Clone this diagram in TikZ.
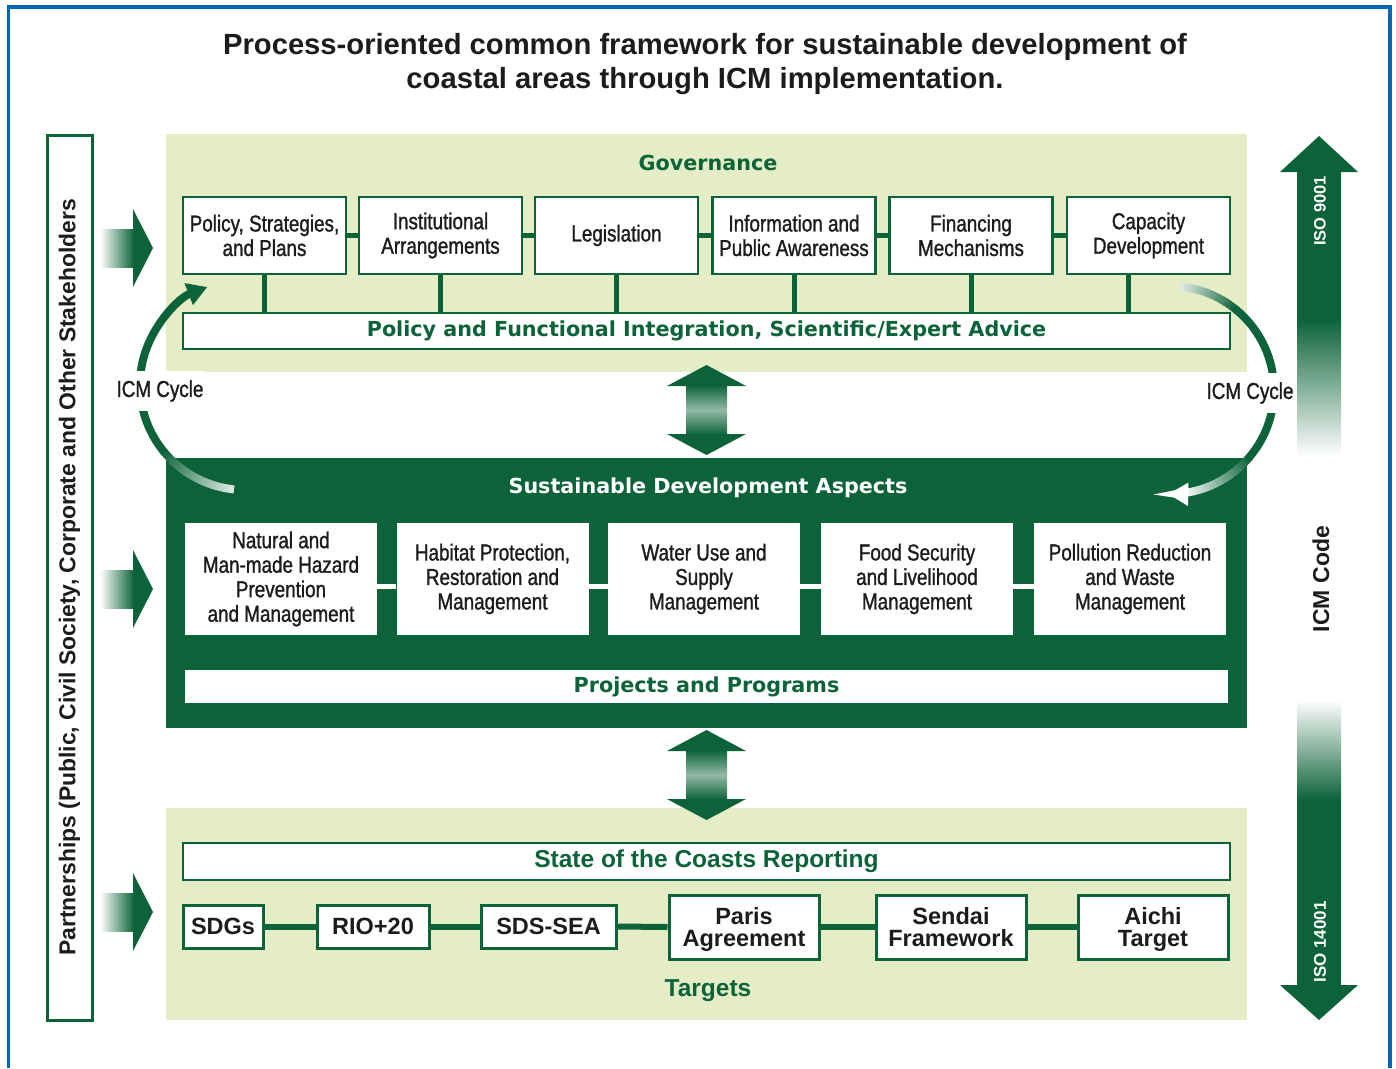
\documentclass[tikz,border=0pt]{standalone}
\usepackage{fontspec}
\setmainfont{Liberation Sans}
\newfontfamily\narrowf[FakeStretch=0.82,FakeBold=1.2]{Liberation Sans}
\newfontfamily\heavyf{DejaVu Sans}
\usetikzlibrary{arrows.meta}
\definecolor{dg}{RGB}{12,99,57}
\definecolor{lg}{RGB}{228,237,197}
\definecolor{fb}{RGB}{0,104,180}
\definecolor{tx}{RGB}{28,28,28}
\begin{document}
\begin{tikzpicture}[x=1pt,y=-1pt,
  nf/.style={font=\narrowf\fontsize{23}{24.5}\selectfont},
  topbox/.style={draw=dg, line width=2.5pt, fill=white, minimum width=163pt, minimum height=77pt, inner sep=0pt, align=center, text=tx, nf},
  midbox/.style={fill=white, minimum width=192pt, minimum height=112pt, inner sep=0pt, align=center, text=tx, nf},
  barbox/.style={draw=dg, line width=2.5pt, fill=white, minimum width=1047pt, minimum height=36pt, inner sep=0pt},
  tgtbox/.style={draw=dg, line width=3pt, fill=white, inner sep=0pt, align=center, text=tx, font=\bfseries\fontsize{23.5}{22}\selectfont},
  heavy/.style={font=\heavyf\bfseries\fontsize{20.7}{24}\selectfont, text=dg, inner sep=0pt},
  boldlbl/.style={font=\bfseries\fontsize{24.5}{26}\selectfont, text=dg, inner sep=0pt},
  cyclbl/.style={nf, text=tx, fill=white, inner xsep=2pt, inner ysep=9pt},
  conn/.style={draw=dg, line width=5pt},
  wconn/.style={draw=white, line width=5pt},
  arcline/.style={line width=8pt}
]
\useasboundingbox (0,0) rectangle (1396,1068);
% frame
\draw[fb, line width=3.5pt] (8.5,1068) -- (8.5,7) -- (1390,7) -- (1390,1068);
% title
\node[font=\bfseries\fontsize{29.2}{34}\selectfont, text=tx, align=center] (title) at (705,64)
  {Process-oriented common framework for sustainable development of\\coastal areas through ICM implementation.};
% backgrounds
\fill[lg] (166,134) rectangle (1247,372);
\fill[dg] (166,458) rectangle (1247,728);
\fill[lg] (166,808) rectangle (1247,1020);
% partnerships
\node[draw=dg, line width=3pt, rotate=90, minimum width=885pt, minimum height=45pt, inner sep=0pt,
  font=\bfseries\fontsize{22.9}{24}\selectfont, text=tx] (pship) at (69.5,577.5)
  {Partnerships (Public, Civil Society, Corporate and Other Stakeholders};
% fat arrows
\foreach \c in {248,589,912} {
  \shade[left color=white, right color=dg] (100,\c-19) rectangle (134,\c+19);
  \fill[dg] (133,\c-39) -- (153,\c) -- (133,\c+39) -- cycle;
}
% double arrows
\foreach \t/\b in {365/455, 730/820} {
  \shade[top color=dg, bottom color=dg, middle color=dg!45!white] (686,\t+20) rectangle (727,\b-20);
  \fill[dg] (706.5,\t) -- (746,\t+21) -- (667,\t+21) -- cycle;
  \fill[dg] (706.5,\b) -- (746,\b-21) -- (667,\b-21) -- cycle;
}
% right arrows
\fill[dg] (1319,136) -- (1358,172) -- (1280,172) -- cycle;
\fill[dg] (1297,171) rectangle (1341,320);
\shade[top color=dg, bottom color=white] (1297,319.5) rectangle (1341,456);
\shade[top color=white, bottom color=dg] (1297,700) rectangle (1341,800);
\fill[dg] (1297,799.5) rectangle (1341,986);
\fill[dg] (1280,985) -- (1358,985) -- (1319,1020) -- cycle;
\node[rotate=90, text=white, font=\bfseries\fontsize{16.5}{18}\selectfont] (iso1) at (1320,211) {ISO 9001};
\node[rotate=90, text=white, font=\bfseries\fontsize{17}{18}\selectfont] (iso2) at (1320,942) {ISO 14001};
\node[rotate=90, text=tx, font=\bfseries\fontsize{23}{24}\selectfont] (icmcode) at (1321,579) {ICM Code};
% ICM cycle arcs
\coordinate (cL) at (245,385);
\coordinate (cR) at (1170,390);
\foreach \k in {0,...,22} {
  \pgfmathsetmacro\aa{96+\k*2}
  \pgfmathsetmacro\bb{\aa+2.4}
  \pgfmathtruncatemacro\pp{15+\k*85/22}
  \draw[arcline, draw=dg!\pp!white] ([shift={(\aa:105)}]cL) arc[start angle=\aa, end angle=\bb, radius=105];
}
\draw[arcline, dg, -{Triangle[length=20pt,width=22pt]}] ([shift={(142:105)}]cL) arc[start angle=142, end angle=249, radius=105];
\foreach \k in {0,...,16} {
  \pgfmathsetmacro\aa{-84+\k*2}
  \pgfmathsetmacro\bb{\aa+2.4}
  \pgfmathtruncatemacro\pp{15+\k*85/16}
  \draw[arcline, draw=dg!\pp!white] ([shift={(\aa:104)}]cR) arc[start angle=\aa, end angle=\bb, radius=104];
}
\draw[arcline, dg] ([shift={(-50:104)}]cR) arc[start angle=-50, end angle=40.5, radius=104];
\foreach \k in {0,...,21} {
  \pgfmathsetmacro\aa{40+\k*2}
  \pgfmathsetmacro\bb{\aa+2.4}
  \pgfmathtruncatemacro\pp{100-\k*100/21}
  \draw[arcline, draw=dg!\pp!white] ([shift={(\aa:104)}]cR) arc[start angle=\aa, end angle=\bb, radius=104];
}
\draw[arcline, white, -{Triangle[length=20pt,width=22pt]}] ([shift={(84:104)}]cR) arc[start angle=84, end angle=91, radius=104];
\node[cyclbl] (cycL) at (160,391) {ICM Cycle};
\node[cyclbl] (cycR) at (1250,393) {ICM Cycle};
% governance
\node[heavy] (gov) at (708,163) {Governance};
\node[topbox] (g1) at (264.5,235.5) {Policy, Strategies,\\and Plans};
\node[topbox] (g2) at (440.5,235.5) {Institutional\\Arrangements};
\node[topbox] (g3) at (616.5,235.5) {Legislation};
\node[topbox] (g4) at (794,235.5) {Information and\\Public Awareness};
\node[topbox] (g5) at (971,235.5) {Financing\\Mechanisms};
\node[topbox] (g6) at (1148.5,235.5) {Capacity\\Development};
\node[barbox] (bar) at (706.5,331) {};
\node[heavy] (barlbl) at (bar) {Policy and Functional Integration, Scientific/Expert Advice};
\foreach \a/\b in {g1/g2, g2/g3, g3/g4, g4/g5, g5/g6} {
  \draw[conn] (\a.east) -- (\b.west);
}
\foreach \a in {g1,g2,g3,g4,g5} {
  \draw[conn] (\a.south) -- (\a.south |- bar.north);
}
\draw[conn] ([xshift=-20pt]g6.south) -- ([xshift=-20pt]g6.south |- bar.north);
% sustainable development aspects
\node[heavy, text=white] (sda) at (708,488) {Sustainable Development Aspects};
\node[midbox] (m1) at (281,579) {Natural and\\Man-made Hazard\\Prevention\\and Management};
\node[midbox] (m2) at (492.5,579) {Habitat Protection,\\Restoration and\\Management};
\node[midbox] (m3) at (704,579) {Water Use and\\Supply\\Management};
\node[midbox] (m4) at (917,579) {Food Security\\and Livelihood\\Management};
\node[midbox] (m5) at (1130,579) {Pollution Reduction\\and Waste\\Management};
\foreach \a/\b in {m1/m2, m2/m3, m3/m4, m4/m5} {
  \draw[wconn] (\a.east |- 0,586) -- (\b.west |- 0,586);
}
\node[fill=white, minimum width=1043pt, minimum height=33pt, inner sep=0pt] (proj) at (706.5,686.5) {};
\node[heavy] (projlbl) at (proj) {Projects and Programs};
% targets
\node[barbox, minimum height=37pt] (soc) at (706.5,861.5) {};
\node[boldlbl] (soclbl) at (soc) {State of the Coasts Reporting};
\node[tgtbox, minimum width=80pt, minimum height=43pt] (t1) at (223,926.5) {SDGs};
\node[tgtbox, minimum width=112pt, minimum height=43pt] (t2) at (373,926.5) {RIO+20};
\node[tgtbox, minimum width=135pt, minimum height=43pt] (t3) at (548.5,926.5) {SDS-SEA};
\node[tgtbox, minimum width=150pt, minimum height=64pt, text depth=0pt] (t4) at (744,927) {Paris\\Agreement};
\node[tgtbox, minimum width=150pt, minimum height=64pt, text depth=0pt] (t5) at (951,927) {Sendai\\Framework};
\node[tgtbox, minimum width=150pt, minimum height=64pt, text depth=0pt] (t6) at (1153,927) {Aichi\\Target};
\foreach \a/\b in {t1/t2, t2/t3, t3/t4, t4/t5, t5/t6} {
  \draw[conn, line width=6pt] (\a.east) -- (\b.west);
}
\node[boldlbl] (tgts) at (708,991) {Targets};
\end{tikzpicture}
\end{document}
